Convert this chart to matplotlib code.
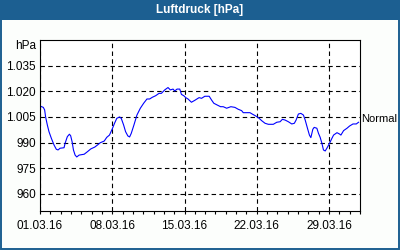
import matplotlib
matplotlib.use("Agg")
import matplotlib.pyplot as plt
import matplotlib.dates as mdates
from matplotlib.patches import Rectangle
from matplotlib.ticker import FuncFormatter, FixedLocator
import numpy as np
import pandas as pd

# days since 01.03.2016 00:00 and pressure in hPa
days = [0.00, 0.32, 0.45, 0.54, 0.71, 0.87, 1.10, 1.36, 1.58, 1.75,
        1.94, 2.33, 2.43, 2.65, 2.85, 2.97, 3.11, 3.24, 3.40, 3.56,
        3.79, 4.28, 4.60, 4.92, 5.31, 5.57, 5.83, 6.22, 6.47, 6.73,
        7.00, 7.22, 7.44, 7.71, 7.87, 8.10, 8.29, 8.51, 8.68, 8.84,
        9.10, 9.39, 9.72, 10.04, 10.36, 10.62, 10.88, 11.20, 11.53, 11.76,
        12.08, 12.40, 12.63, 12.89, 13.05, 13.28, 13.54, 13.70, 13.93, 14.12,
        14.34, 14.67, 14.99, 15.41, 15.65, 15.97, 16.39, 16.62, 16.84, 17.16,
        17.49, 17.75, 18.08, 18.49, 18.88, 19.20, 19.53, 19.69, 20.34, 20.56,
        20.89, 21.15, 21.48, 21.80, 22.12, 22.60, 22.94, 23.26, 23.48, 23.74,
        24.06, 24.39, 24.64, 24.81, 25.03, 25.27, 25.52, 25.69, 25.91, 26.10,
        26.24, 26.43, 26.56, 26.82, 26.98, 27.14, 27.31, 27.46, 27.63, 27.79,
        28.05, 28.28, 28.44, 28.77, 29.02, 29.15, 29.41, 29.74, 29.99, 30.32,
        30.64, 30.86]
pressure = [1011.4, 1010.6, 1009.1, 1005.1, 1000.3, 996.4, 992.5, 988.6, 986.1, 985.7,
            986.7, 987.0, 989.6, 993.5, 994.9, 994.0, 990.5, 985.7, 982.7, 981.6,
            982.7, 983.2, 984.7, 986.3, 987.4, 988.6, 989.9, 990.9, 993.1, 994.4,
            998.0, 1001.3, 1004.2, 1005.0, 1004.2, 1000.3, 996.4, 993.9, 993.3, 995.4,
            1000.3, 1006.1, 1010.1, 1013.0, 1015.5, 1015.5, 1016.5, 1017.4, 1018.8, 1018.8,
            1020.8, 1022.2, 1020.8, 1021.3, 1020.2, 1021.3, 1021.3, 1018.2, 1017.4, 1016.3,
            1015.5, 1013.6, 1014.7, 1016.3, 1015.9, 1017.1, 1017.1, 1014.9, 1013.0, 1012.0,
            1011.0, 1011.0, 1010.1, 1011.0, 1010.6, 1009.5, 1008.7, 1007.5, 1007.5, 1006.7,
            1005.6, 1004.6, 1002.8, 1001.3, 1000.7, 1000.7, 1001.9, 1002.2, 1003.6, 1003.2,
            1002.2, 1000.9, 1001.3, 1003.2, 1006.7, 1007.1, 1006.1, 1003.2, 998.4, 994.4,
            992.9, 997.8, 998.9, 998.4, 995.4, 993.1, 989.6, 985.7, 985.1, 986.7,
            989.6, 992.5, 994.4, 995.8, 995.0, 994.4, 997.0, 998.4, 999.7, 1000.9,
            1000.9, 1001.9]

start = pd.Timestamp("2016-03-01")
end = pd.Timestamp("2016-04-01")
week_ticks = ["2016-03-01", "2016-03-08", "2016-03-15", "2016-03-22", "2016-03-29"]
y_ticks = [960, 975, 990, 1005, 1020, 1035]
normal_level = 1004
title = "Luftdruck [hPa]"

blue = "#1c5f91"
font = "Liberation Sans"

times = start + pd.to_timedelta(days, unit="D")

fig = plt.figure(figsize=(4, 2.5), dpi=100)
fig.patch.set_facecolor("#fcfefc")
fig.patches.append(Rectangle((0, 0.92), 1, 0.08, transform=fig.transFigure,
                             facecolor=blue, edgecolor="none", zorder=0))
fig.patches.append(Rectangle((0.0025, 0.004), 0.995, 0.992, transform=fig.transFigure,
                             fill=False, edgecolor=blue, lw=1.4, zorder=0))
fig.text(0.5, 0.96, title, ha="center", va="center", color="white",
         fontsize=8.5, fontweight="bold", family=font)

ax = fig.add_axes([0.1, 0.156, 0.8, 0.684])
ax.set_facecolor("white")
ax.plot(times, pressure, color="#0000ff", lw=0.8)

ax.set_xlim(start, end)
ax.set_ylim(950, 1050)

ax.xaxis.set_major_locator(FixedLocator(mdates.date2num(pd.to_datetime(week_ticks))))
ax.xaxis.set_minor_locator(mdates.DayLocator())
ax.xaxis.set_major_formatter(mdates.DateFormatter("%d.%m.%y"))
ax.set_yticks(y_ticks)
ax.yaxis.set_major_formatter(FuncFormatter(lambda v, p: f"{v:,.0f}".replace(",", ".")))

ax.tick_params(axis="x", which="both", direction="out", length=2.5, width=0.8,
               pad=4, labelsize=8.5)
ax.tick_params(axis="y", length=0, pad=3, labelsize=8.5)
for lab in ax.get_xticklabels() + ax.get_yticklabels():
    lab.set_family(font)

ax.grid(True, axis="both", which="major", color="black", lw=0.8, linestyle=(0, (4, 3)))
for s in ax.spines.values():
    s.set_linewidth(0.8)
    s.set_color("black")

ax.text(-0.012, 1050, "hPa", transform=ax.get_yaxis_transform(), ha="right", va="top",
        fontsize=8.5, family=font)
ax.text(1.005, normal_level, "Normal", transform=ax.get_yaxis_transform(), ha="left",
        va="center", fontsize=8, family=font)

fig.savefig("out.png", dpi=100, facecolor=fig.get_facecolor())
